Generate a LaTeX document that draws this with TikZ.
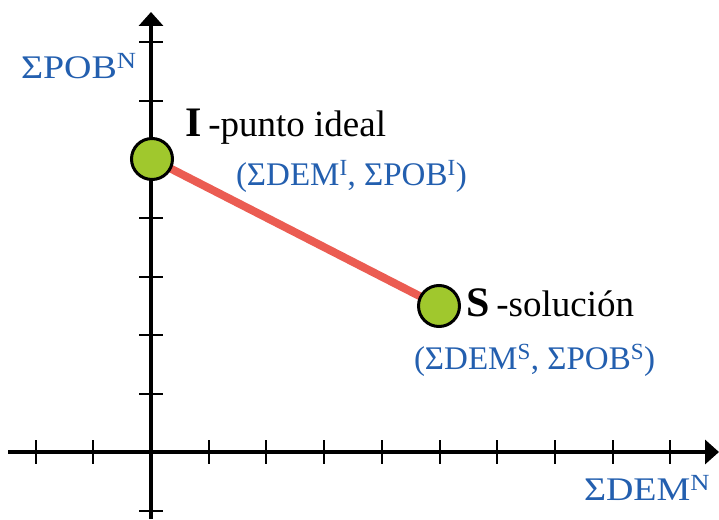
\documentclass[tikz,border=0pt]{standalone}
\usepackage{fontspec}
\setmainfont{Liberation Serif}
\usetikzlibrary{arrows.meta}
\definecolor{lblblue}{RGB}{35,95,175}
\definecolor{ptgreen}{RGB}{160,200,45}
\definecolor{segred}{RGB}{235,92,82}
\begin{document}
\begin{tikzpicture}[x=1pt,y=-1pt,
  axis/.style={line width=3.5pt,-{Triangle[length=14pt,width=24pt]}},
  tickmark/.style={line width=2pt},
  ptnode/.style={circle,draw=black,line width=3pt,fill=ptgreen,minimum size=41pt,inner sep=0pt},
  seg/.style={segred,line width=8pt},
  lbl/.style={anchor=base west,inner sep=0pt,outer sep=0pt},
  blue/.style={lbl,text=lblblue,font=\fontsize{33}{36}\selectfont},
  blk/.style={lbl,text=black}]
\useasboundingbox (0,0) rectangle (719,519);
\fill[white] (0,0) rectangle (719,519);
% axes
\coordinate (xs) at (8,452);
\coordinate (xe) at (719,452);
\coordinate (ys) at (151,519);
\coordinate (ye) at (151,12);
\draw[axis] (xs) -- (xe);
\draw[axis] (ys) -- (ye);
% ticks
\foreach \k in {-2,-1,1,2,3,4,5,6,7,8,9}
  \draw[tickmark] ({151+57.7*\k},440) -- ({151+57.7*\k},464);
\foreach \k in {-1,1,2,3,4,5,6,7}
  \draw[tickmark] (139,{452-58.5*\k}) -- (163,{452-58.5*\k});
% segment and points
\coordinate (cI) at (152,159);
\coordinate (cS) at (439,306);
\draw[seg] (cI) -- (cS);
\node[ptnode] (I) at (cI) {};
\node[ptnode] (S) at (cS) {};
% labels
\node[blue] (ylab) at (21,78) {\scalebox{1.15}[1]{ΣPOB\textsuperscript{N}}};
\node[blue] (xlab) at (584,500) {\scalebox{1.15}[1]{ΣDEM\textsuperscript{N}}};
\node[blk] (Ilab) at (185,136) {{\fontsize{42}{44}\selectfont\bfseries I}\hspace{7pt}{\fontsize{37}{40}\selectfont -punto ideal}};
\node[blue] (Icoord) at (236,185) {(ΣDEM\textsuperscript{I}, ΣPOB\textsuperscript{I})};
\node[blk] (Slab) at (466,316) {{\fontsize{42}{44}\selectfont\bfseries S}\hspace{7pt}{\fontsize{37}{40}\selectfont -solución}};
\node[blue] (Scoord) at (414,369) {(ΣDEM\textsuperscript{S}, ΣPOB\textsuperscript{S})};
\end{tikzpicture}
\end{document}
